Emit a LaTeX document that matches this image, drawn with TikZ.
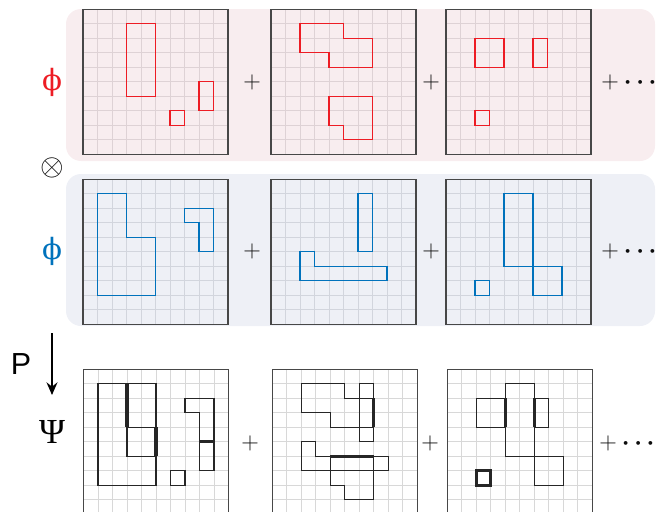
\documentclass[tikz,border=0pt]{standalone}
\usepackage{fontspec}
\newfontfamily\greekfont{Liberation Serif}
\newfontfamily\phifont{DejaVu Serif}
\newfontfamily\labelsans{Liberation Sans}
\usetikzlibrary{arrows.meta,positioning}
\definecolor{phired}{RGB}{237,28,36}
\definecolor{phiblue}{RGB}{0,114,188}
\definecolor{redbg}{RGB}{248,237,239}
\definecolor{bluebg}{RGB}{238,240,246}
\definecolor{redln}{RGB}{222,210,213}
\definecolor{blueln}{RGB}{210,213,221}
\definecolor{psiln}{RGB}{216,216,216}
% 10x10 board, frame on top of the thin lines
\newcommand\unitgrid[1]{%
  \foreach \k in {1,...,9} {\draw[draw=#1,line width=0.7pt] (\k,0) -- (\k,10) (0,\k) -- (10,\k);}
  \draw[gridframe] (0,0) rectangle (10,10);}

\begin{document}
\begin{tikzpicture}[x=0.3mm,y=-0.3mm,>=Stealth,
 boardunits/.style={x=4.35mm,y=-4.35mm},
 gridframe/.style={draw=black!72,line width=0.9pt},
 redcell/.style={draw=phired,line width=1.1pt},
 bluecell/.style={draw=phiblue,line width=1.1pt},
 psicell/.style={draw=black!85,line width=1.05pt},
 overlap/.style={draw=black!85,line width=2.6pt},
 sym/.style={inner sep=0pt,text=black!95,font=\fontsize{20.74}{21}\selectfont},
 dots/.style={inner sep=0pt,text=black!95,font=\fontsize{20.74}{21}\selectfont\boldmath},
 phi/.style={inner sep=0pt,font=\fontsize{25}{25}\selectfont\phifont},
 greek/.style={inner sep=0pt,font=\fontsize{30}{30}\selectfont\greekfont},
 lab/.style={inner sep=0pt,font=\fontsize{26}{26}\selectfont\labelsans}]
\useasboundingbox (0,0) rectangle (660,512);
% panels
\fill[redbg,rounded corners=4.5mm] (66,9) rectangle (655,161);
\fill[bluebg,rounded corners=4.5mm] (66,174) rectangle (655,326);
% left labels
\node[sym,scale=1.25] (tensor) at (52,168) {$\otimes$};
\node[phi,text=phired] (phired) at (52,82) {ϕ};
\node[phi,text=phiblue] (phiblue) at (52,251) {ϕ};
\node[lab] (proj) at (21,364) {P};
\node[greek] (psi) at (52,432) {Ψ};
\coordinate (arrtop) at (52,333);
\coordinate (arrtip) at (52,395);
\draw[line width=1.1pt,-{Stealth[length=3.8mm,width=3.3mm,inset=1.3mm]}] (arrtop) -- (arrtip);

% red row
\begin{scope}[shift={(83,9.3)},boardunits]
 \unitgrid{redln}
 \draw[redcell] (3,1) rectangle (5,6) (6,7) rectangle (7,8) (8,5) rectangle (9,7);
\end{scope}
\begin{scope}[shift={(271,9.3)},boardunits]
 \unitgrid{redln}
 \draw[redcell] (2,1) -- (5,1) -- (5,2) -- (7,2) -- (7,4) -- (4,4) -- (4,3) -- (2,3) -- cycle
   (4,6) -- (7,6) -- (7,9) -- (5,9) -- (5,8) -- (4,8) -- cycle;
\end{scope}
\begin{scope}[shift={(446,9.3)},boardunits]
 \unitgrid{redln}
 \draw[redcell] (2,2) rectangle (4,4) (6,2) rectangle (7,4) (2,7) rectangle (3,8);
\end{scope}
\node[sym] (plusRa) at (252,82) {$+$};
\node[sym] (plusRb) at (431,82) {$+$};
\node[sym] (plusRc) at (610,82) {$+$};
\node[dots,base right=1.4mm of plusRc] (dotsR) {$\cdots$};

% blue row
\begin{scope}[shift={(83,179.3)},boardunits]
 \unitgrid{blueln}
 \draw[bluecell] (1,1) -- (3,1) -- (3,4) -- (5,4) -- (5,8) -- (1,8) -- cycle
   (7,2) -- (9,2) -- (9,5) -- (8,5) -- (8,3) -- (7,3) -- cycle;
\end{scope}
\begin{scope}[shift={(271,179.3)},boardunits]
 \unitgrid{blueln}
 \draw[bluecell] (6,1) rectangle (7,5) (2,5) -- (3,5) -- (3,6) -- (8,6) -- (8,7) -- (2,7) -- cycle;
\end{scope}
\begin{scope}[shift={(446,179.3)},boardunits]
 \unitgrid{blueln}
 \draw[bluecell] (4,1) rectangle (6,6) (6,6) rectangle (8,8) (2,7) rectangle (3,8);
\end{scope}
\node[sym] (plusBa) at (252,251) {$+$};
\node[sym] (plusBb) at (431,251) {$+$};
\node[sym] (plusBc) at (610,251) {$+$};
\node[dots,base right=1.4mm of plusBc] (dotsB) {$\cdots$};

% product row
\begin{scope}[shift={(83.5,369.3)},boardunits]
 \unitgrid{psiln}
 \draw[psicell] (3,1) rectangle (5,6) (6,7) rectangle (7,8) (8,5) rectangle (9,7)
   (1,1) -- (3,1) -- (3,4) -- (5,4) -- (5,8) -- (1,8) -- cycle
   (7,2) -- (9,2) -- (9,5) -- (8,5) -- (8,3) -- (7,3) -- cycle;
 \draw[overlap] (3,1) -- (3,4) (5,4) -- (5,6) (8,5) -- (9,5);
\end{scope}
\begin{scope}[shift={(272.3,369.3)},boardunits]
 \unitgrid{psiln}
 \draw[psicell] (2,1) -- (5,1) -- (5,2) -- (7,2) -- (7,4) -- (4,4) -- (4,3) -- (2,3) -- cycle
   (4,6) -- (7,6) -- (7,9) -- (5,9) -- (5,8) -- (4,8) -- cycle
   (6,1) rectangle (7,5) (2,5) -- (3,5) -- (3,6) -- (8,6) -- (8,7) -- (2,7) -- cycle;
 \draw[overlap] (7,2) -- (7,4) (4,6) -- (7,6);
\end{scope}
\begin{scope}[shift={(447.3,369.3)},boardunits]
 \unitgrid{psiln}
 \draw[psicell] (2,2) rectangle (4,4) (6,2) rectangle (7,4)
   (4,1) rectangle (6,6) (6,6) rectangle (8,8);
 \draw[overlap] (4,2) -- (4,4) (6,2) -- (6,4) (2,7) rectangle (3,8);
\end{scope}
\node[sym] (plusPa) at (250,443) {$+$};
\node[sym] (plusPb) at (430,443) {$+$};
\node[sym] (plusPc) at (608,443) {$+$};
\node[dots,base right=1.4mm of plusPc] (dotsP) {$\cdots$};
\end{tikzpicture}
\end{document}
